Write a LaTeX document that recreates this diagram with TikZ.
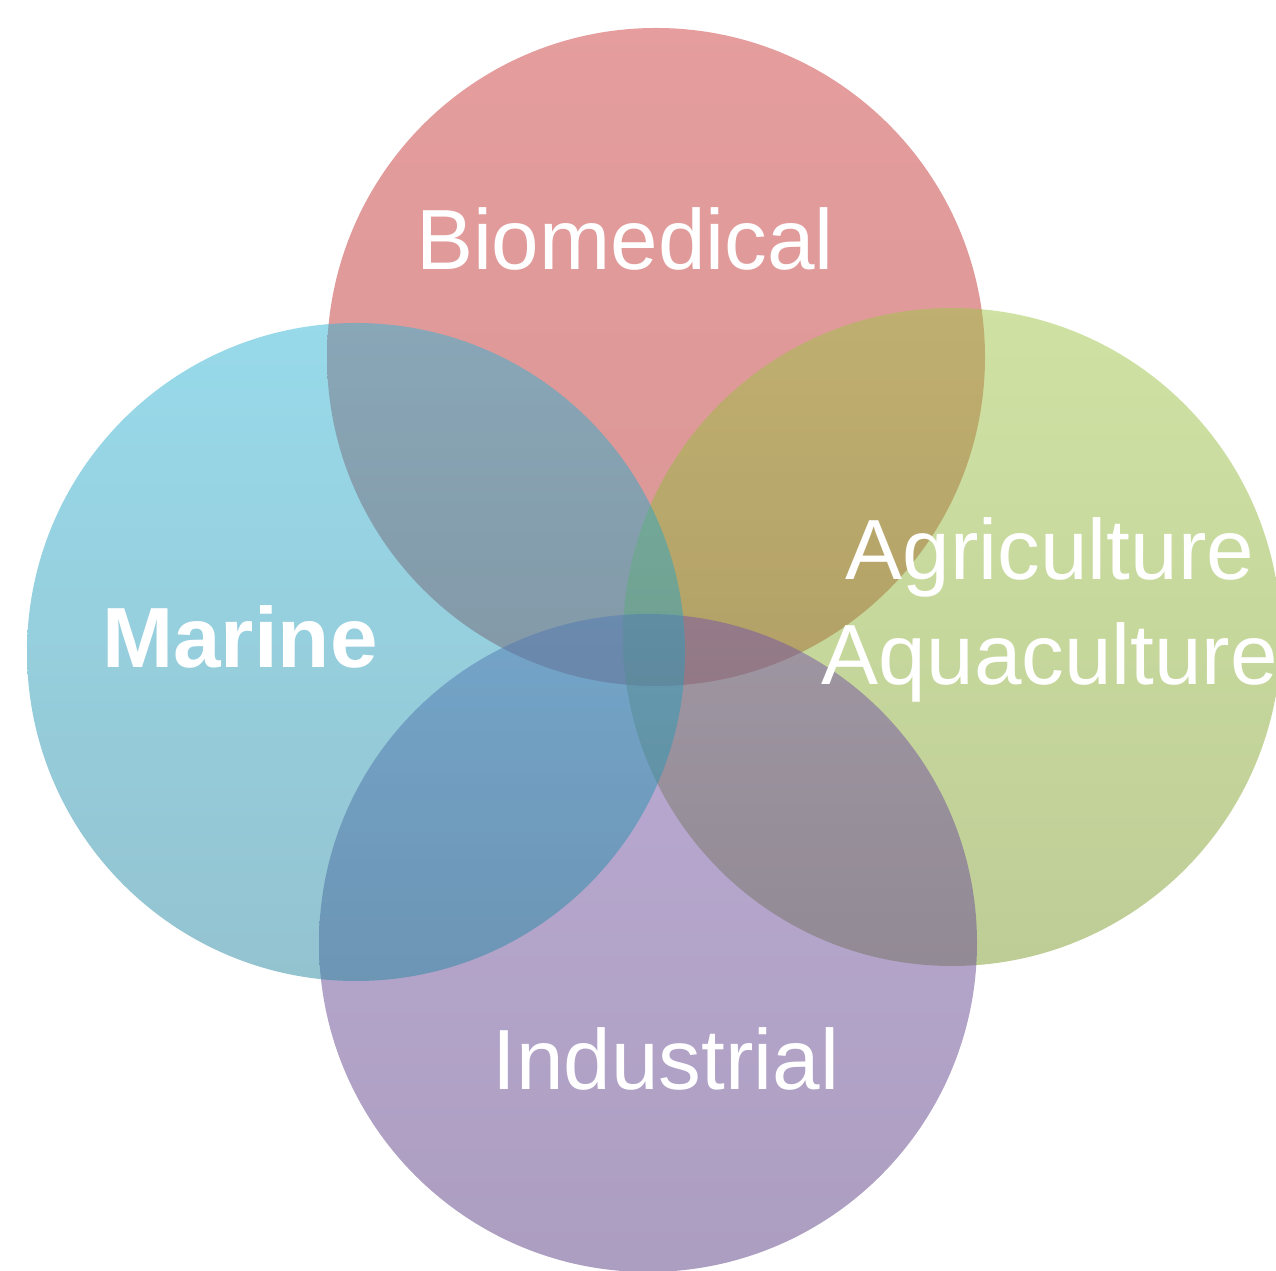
\documentclass[tikz,border=0pt]{standalone}
\usepackage{fontspec}
\setmainfont{Liberation Sans}
\usepackage{xcolor}
\definecolor{bioTop}{RGB}{203,59,59}
\definecolor{bioBot}{RGB}{181,45,45}
\definecolor{agriTop}{RGB}{159,197,71}
\definecolor{agriBot}{RGB}{125,155,45}
\definecolor{indTop}{RGB}{119,85,169}
\definecolor{indBot}{RGB}{89,61,129}
\definecolor{marTop}{RGB}{49,181,213}
\definecolor{marBot}{RGB}{41,135,161}

\begin{document}
\begin{tikzpicture}[x=0.01cm, y=-0.01cm,
    area/.style={fill opacity=0.5, draw=none},
    areatext/.style={text=white, font=\fontsize{24.3}{30}\selectfont, anchor=base, align=center}]
          \useasboundingbox (0,0) rectangle (1276,1271);

          % Four overlapping fields, drawn from back to front
          \shade[area, top color=bioTop, bottom color=bioBot] (656,357) circle (329);
          \shade[area, top color=agriTop, bottom color=agriBot] (952,637) circle (329);
          \shade[area, top color=indTop, bottom color=indBot] (648,943) circle (329);
          \shade[area, top color=marTop, bottom color=marBot] (356,652) circle (329);

          % Labels
          \node[areatext] (bio) at (625,270) {Biomedical};
          \node[areatext, font=\fontsize{24.3}{30}\selectfont\bfseries] (marine) at (240,668) {Marine};
          \node[areatext] (agri) at (1050,580) {Agriculture};
          \node[areatext] (aqua) at (1050,685) {Aquaculture};
          \node[areatext] (ind) at (666,1090) {Industrial};
      \end{tikzpicture}
\end{document}
